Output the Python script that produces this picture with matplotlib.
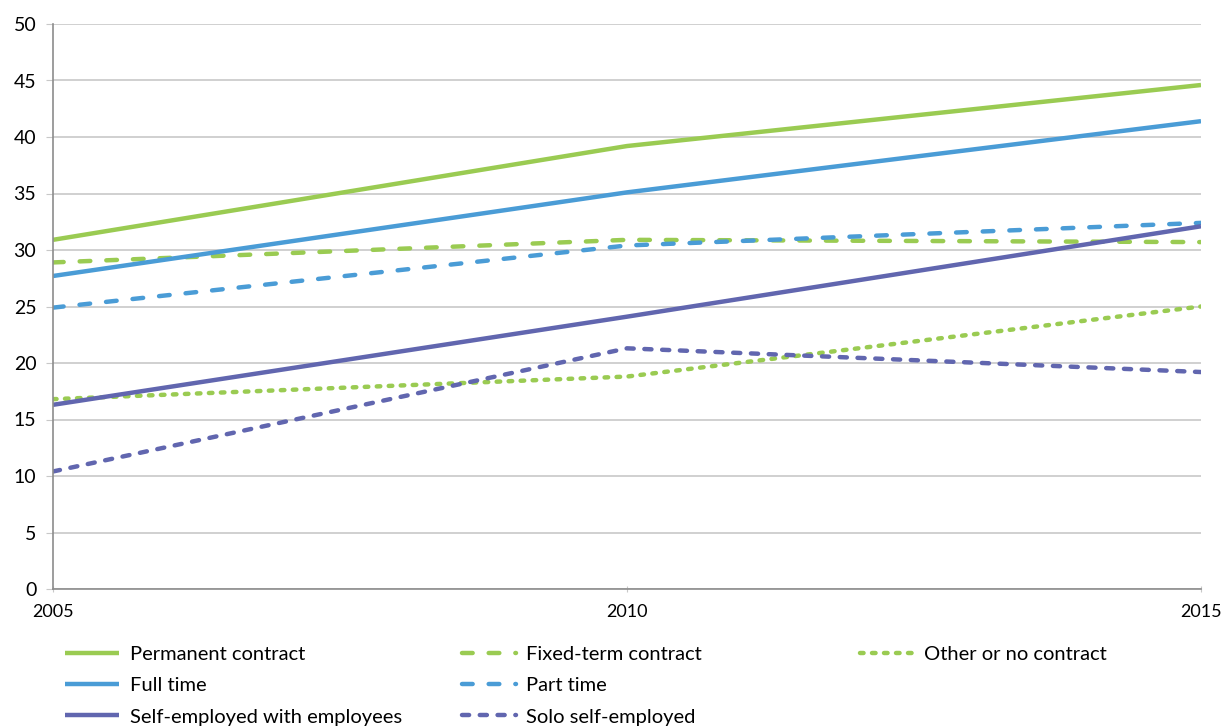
import matplotlib.pyplot as plt

years = [2005, 2010, 2015]

permanent = [30.9, 39.2, 44.6]
fixed_term = [28.9, 30.9, 30.7]
other_contract = [16.8, 18.8, 25.0]
full_time = [27.7, 35.1, 41.4]
part_time = [24.9, 30.4, 32.4]
self_emp_employees = [16.3, 24.1, 32.1]
solo_self_emp = [10.4, 21.3, 19.2]

green = '#9ACB52'
blue = '#4A9CD6'
purple = '#6166AF'

plt.rcParams['font.family'] = ['Lato', 'DejaVu Sans']

fig = plt.figure(figsize=(12.21, 7.27), dpi=100)
ax = fig.add_axes([53/1221, 1 - 589/727, (1201-53)/1221, (589-24)/727])

lw = 3.2
dash = (0, (2.4, 3.6))
series = [
    ('Permanent contract', permanent, green, '-'),
    ('Fixed-term contract', fixed_term, green, dash),
    ('Other or no contract', other_contract, green, (0, (0.8, 1.9))),
    ('Full time', full_time, blue, '-'),
    ('Part time', part_time, blue, dash),
    ('Self-employed with employees', self_emp_employees, purple, '-'),
    ('Solo self-employed', solo_self_emp, purple, (0, (1.6, 2.4))),
]

lines = {}
for name, vals, col, ls in series:
    ln, = ax.plot(years, vals, color=col, lw=lw, linestyle=ls,
                  solid_capstyle='butt', dash_capstyle='round', label=name)
    lines[name] = ln

ax.set_xlim(2005, 2015)
ax.set_ylim(0, 50)
ax.set_yticks(range(0, 51, 5))
ax.set_xticks(years)
ax.yaxis.grid(True, color='#C8C8C8', lw=1.2)
ax.set_axisbelow(True)
for s in ['top', 'right']:
    ax.spines[s].set_visible(False)
for s in ['left', 'bottom']:
    ax.spines[s].set_color('#8C8C8C')
    ax.spines[s].set_linewidth(1.2)
ax.tick_params(axis='y', length=5, color='#C8C8C8', labelsize=14, pad=7)
ax.tick_params(axis='x', length=5, color='#C8C8C8', labelsize=13, pad=8, direction='inout')

# legend in three columns, filled top to bottom
cols = [
    ['Permanent contract', 'Full time', 'Self-employed with employees'],
    ['Fixed-term contract', 'Part time', 'Solo self-employed'],
    ['Other or no contract'],
]
xs = [57/1221, 454/1221, 852/1221]
for x, names in zip(xs, cols):
    fig.legend([lines[n] for n in names], names, loc='upper left',
               bbox_to_anchor=(x, 1 - 638/727), frameon=False,
               fontsize=14.5, handlelength=2.7, handletextpad=0.5,
               labelspacing=0.7, borderaxespad=0)

fig.savefig('out.png', dpi=100)
